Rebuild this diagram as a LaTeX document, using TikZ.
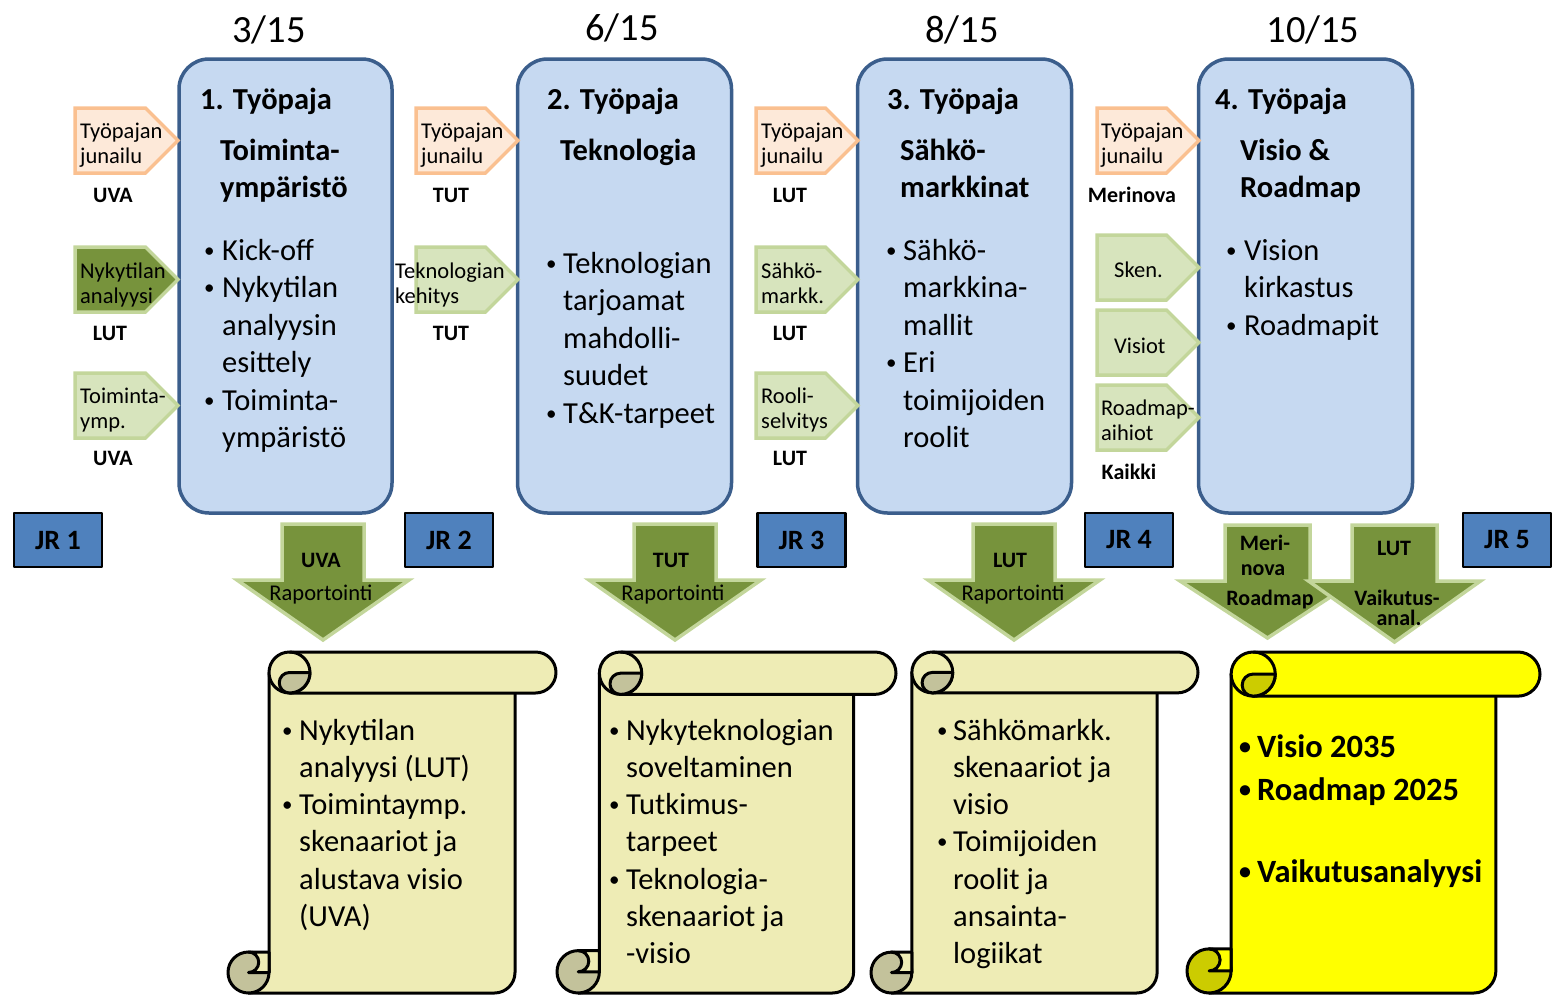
\documentclass[tikz,border=0pt]{standalone}
\usepackage{fontspec}
\setmainfont{Carlito}
\definecolor{boxfill}{HTML}{C6D9F1}
\definecolor{boxline}{HTML}{3B5E8C}
\definecolor{orfill}{HTML}{FDE9D9}
\definecolor{orline}{HTML}{FAC090}
\definecolor{dkgreen}{HTML}{77933C}
\definecolor{ltgreen}{HTML}{D7E4BD}
\definecolor{grline}{HTML}{C3D69B}
\definecolor{jrfill}{HTML}{4F81BD}
\definecolor{scfill}{HTML}{EEECB5}
\definecolor{scdark}{HTML}{C3C29B}
\definecolor{ylw}{HTML}{FFFF00}
\definecolor{ylwdark}{HTML}{CCCC00}
\newcommand\fbig{\fontsize{30.5}{37.5}\selectfont}
\newcommand\fhead{\bfseries\fontsize{30.5}{36}\selectfont}
\newcommand\fdate{\fontsize{38.5}{46}\selectfont}
\newcommand\fsmall{\fontsize{22.5}{26}\selectfont}
\newcommand\fsmallb{\bfseries\fontsize{22}{26}\selectfont}
\newcommand\fjr{\bfseries\fontsize{28}{34}\selectfont}
\newcommand\fyel{\bfseries\fontsize{32.5}{40}\selectfont}
\newcommand\fbul{\fontsize{21}{21}\selectfont}
\newcommand\fbulb{\bfseries\fontsize{24}{24}\selectfont}
% multi-line text: name, x, first baseline, spacing, font, list
\newcommand\tlines[6]{%
  \foreach \s [count=\i] in {#6} {\node[txt, font=#5] (#1-\i) at (#2, {-(#3+(\i-1)*#4)}) {\s};}}
% bullet: name, x, baseline, font
\newcommand\tbul[4]{\node[txt, font=#4] (#1) at (#2,{-(#3-3)}) {\textbullet};}
% pentagon: name, left, top, tip x, bottom, style
\newcommand\pent[6]{%
  \draw[#6] (#2,-#3) -- ({#4-(#5-#3)/2},-#3) -- (#4,{-(#3+#5)/2}) -- ({#4-(#5-#3)/2},-#5) -- (#2,-#5) -- cycle;
  \coordinate (#1) at ({(#2+#4)/2},{-(#3+#5)/2});}
% down arrow: name, cx, top, neck, tip, shaft half, head half
\newcommand\darrow[7]{%
  \draw[darr] ({#2-#6},-#3) -- ({#2+#6},-#3) -- ({#2+#6},-#4) -- ({#2+#7},-#4) -- (#2,-#5) -- ({#2-#7},-#4) -- ({#2-#6},-#4) -- cycle;
  \coordinate (#1) at (#2,-#4);}
% scroll: name, l, t, r, b, fill, dark
\newcommand\scrollshape[7]{%
  \pgfmathsetmacro\scL{#2}\pgfmathsetmacro\scT{-#3}\pgfmathsetmacro\scR{#4}\pgfmathsetmacro\scB{-#5}%
  \pgfmathsetmacro\scch{0.125*(#4-#2)}\pgfmathsetmacro\scchh{\scch/2}\pgfmathsetmacro\scchq{\scch/4}%
  \pgfmathsetmacro\scbl{\scL+\scch}\pgfmathsetmacro\scbr{\scR-\scch}%
  \pgfmathsetmacro\sccx{\scbl+\scchh}\pgfmathsetmacro\sccy{\scT-\scchh}%
  \pgfmathsetmacro\scbyA{\scB+\scchh}\pgfmathsetmacro\scbyT{\scB+\scch}\pgfmathsetmacro\scbcx{\scL+\scchh}%
  \pgfmathsetmacro\scbrA{\scbr-\scchh}\pgfmathsetmacro\scrr{\scR-\scchh}\pgfmathsetmacro\scrb{\scT-\scch}%
  \pgfmathsetmacro\sccxr{\sccx+\scchh}%
  \draw[scline, fill=#6] (\scbl,\sccy) -- (\scbl,\scbyA) -- (\scbcx,\scB) -- (\scbrA,\scB)
     arc[start angle=-90,end angle=0,radius=\scchh pt] -- (\scbr,\sccy) -- cycle;
  \draw[scline, fill=#7] (\scbcx,\scbyA) circle[radius=\scchh pt];
  \draw[scline, fill=#6] (\scbcx,\scbyT) -- (\scbl,\scbyT) -- (\scbl,\scbyA) -- (\scbcx,\scbyA)
     arc[start angle=-90,end angle=90,radius=\scchq pt] -- cycle;
  \draw[scline, fill=#6] (\sccx,\scT) -- (\scrr,\scT) arc[start angle=90,end angle=-90,radius=\scchh pt]
     -- (\sccx,\scrb) arc[start angle=270,end angle=90,radius=\scchh pt] -- cycle;
  \draw[scline] (\sccx,\scT) arc[start angle=90,end angle=-90,radius=\scchh pt];
  \draw[scline, fill=#7] (\sccx,\scrb) arc[start angle=270,end angle=90,radius=\scchq pt]
     -- (\sccxr,\sccy) arc[start angle=0,end angle=-90,radius=\scchh pt] -- cycle;
  \coordinate (#1) at ({(#2+#4)/2},{-(#3+#5)/2});}
\begin{document}
\begin{tikzpicture}[x=1pt,y=1pt,line join=round,
  txt/.style={anchor=base west, inner sep=0pt},
  ctxt/.style={anchor=base, inner sep=0pt},
  wbox/.style={draw=boxline, fill=boxfill, line width=3.5pt, rounded corners=30pt, inner sep=0pt},
  jrbox/.style={draw=black, fill=jrfill, line width=2.5pt, minimum width=88pt, minimum height=54pt, inner sep=0pt, font=\fjr},
  pentor/.style={draw=orline, fill=orfill, line width=3.5pt, line join=miter},
  pentdk/.style={draw=grline, fill=dkgreen, line width=3.5pt, line join=miter},
  pentlt/.style={draw=grline, fill=ltgreen, line width=3.5pt, line join=miter},
  darr/.style={draw=grline, fill=dkgreen, line width=3.5pt, line join=miter},
  scline/.style={draw=black, line width=3pt}]
\path[use as bounding box] (0,0) rectangle (1559,-1004);

% dates
\node[ctxt, font=\fdate] (d1) at (269,-42) {3/15};
\node[ctxt, font=\fdate] (d2) at (622,-40) {6/15};
\node[ctxt, font=\fdate] (d3) at (962,-42) {8/15};
\node[ctxt, font=\fdate] (d4) at (1313,-42) {10/15};

% workshop boxes
\node[wbox, minimum width=213pt, minimum height=454pt] (w1) at (285.5,-286) {};
\node[wbox, minimum width=214pt, minimum height=454pt] (w2) at (624.5,-286) {};
\node[wbox, minimum width=214pt, minimum height=454pt] (w3) at (964.5,-286) {};
\node[wbox, minimum width=214pt, minimum height=454pt] (w4) at (1305.5,-286) {};

% box 1
\node[txt, font=\fhead] (h1) at (200,-109) {1. Työpaja};
\tlines{h1s}{220}{160}{37}{\fhead}{Toiminta-,ympäristö}
\tlines{b1}{222}{260}{37.5}{\fbig}{Kick-off,Nykytilan,analyysin,esittely,Toiminta-,ympäristö}
\tbul{b1a}{204}{260}{\fbul}\tbul{b1b}{204}{297.5}{\fbul}\tbul{b1c}{204}{410}{\fbul}
% box 2
\node[txt, font=\fhead] (h2) at (547,-109) {2. Työpaja};
\tlines{h2s}{560}{160}{37}{\fhead}{Teknologia}
\tlines{b2}{563}{273}{37.5}{\fbig}{Teknologian,tarjoamat,mahdolli-,suudet,T\&K-tarpeet}
\tbul{b2a}{546}{273}{\fbul}\tbul{b2b}{546}{423}{\fbul}
% box 3
\node[txt, font=\fhead] (h3) at (887,-109) {3. Työpaja};
\tlines{h3s}{900}{160}{37}{\fhead}{Sähkö-,markkinat}
\tlines{b3}{903}{260}{37.5}{\fbig}{Sähkö-,markkina-,mallit,Eri,toimijoiden,roolit}
\tbul{b3a}{886}{260}{\fbul}\tbul{b3b}{886}{372.5}{\fbul}
% box 4
\node[txt, font=\fhead] (h4) at (1215,-109) {4. Työpaja};
\tlines{h4s}{1240}{160}{37}{\fhead}{Visio \&,Roadmap}
\tlines{b4}{1244}{260}{37.5}{\fbig}{Vision,kirkastus,Roadmapit}
\tbul{b4a}{1226}{260}{\fbul}\tbul{b4b}{1226}{335}{\fbul}

% input pentagons
\pent{p11}{75}{108}{178}{173}{pentor}
\pent{p12}{75}{247}{178}{312}{pentdk}
\pent{p13}{75}{373}{178}{438}{pentlt}
\tlines{p11t}{80}{138}{25}{\fsmall}{Työpajan,junailu}
\tlines{p12t}{80}{278}{25}{\fsmall}{Nykytilan,analyysi}
\tlines{p13t}{80}{403}{25}{\fsmall}{Toiminta-,ymp.}
\node[ctxt, font=\fsmallb] (l11) at (113,-202) {UVA};
\node[ctxt, font=\fsmallb] (l12) at (110,-340) {LUT};
\node[ctxt, font=\fsmallb] (l13) at (113,-465) {UVA};

\pent{p21}{416}{108}{518}{173}{pentor}
\pent{p22}{416}{247}{518}{312}{pentlt}
\tlines{p21t}{421}{138}{25}{\fsmall}{Työpajan,junailu}
\tlines{p22t}{395}{278}{25}{\fsmall}{Teknologian,kehitys}
\node[ctxt, font=\fsmallb] (l21) at (451,-202) {TUT};
\node[ctxt, font=\fsmallb] (l22) at (451,-340) {TUT};

\pent{p31}{756}{108}{858}{173}{pentor}
\pent{p32}{756}{247}{858}{312}{pentlt}
\pent{p33}{756}{373}{858}{438}{pentlt}
\tlines{p31t}{761}{138}{25}{\fsmall}{Työpajan,junailu}
\tlines{p32t}{761}{278}{25}{\fsmall}{Sähkö-,markk.}
\tlines{p33t}{761}{403}{25}{\fsmall}{Rooli-,selvitys}
\node[ctxt, font=\fsmallb] (l31) at (790,-202) {LUT};
\node[ctxt, font=\fsmallb] (l32) at (790,-340) {LUT};
\node[ctxt, font=\fsmallb] (l33) at (790,-465) {LUT};

\pent{p41}{1097}{108}{1199}{173}{pentor}
\pent{p42}{1097}{235}{1199}{300}{pentlt}
\pent{p43}{1097}{310}{1199}{375}{pentlt}
\pent{p44}{1097}{385}{1199}{450}{pentlt}
\tlines{p41t}{1101}{138}{25}{\fsmall}{Työpajan,junailu}
\tlines{p42t}{1114}{277}{25}{\fsmall}{Sken.}
\tlines{p43t}{1114}{353}{25}{\fsmall}{Visiot}
\tlines{p44t}{1101}{415}{25}{\fsmall}{Roadmap-,aihiot}
\node[ctxt, font=\fsmallb] (l41) at (1132,-202) {Merinova};
\node[ctxt, font=\fsmallb] (l44) at (1129,-479) {Kaikki};

% JR boxes
\node[jrbox] (jr1) at (58,-540) {JR 1};
\node[jrbox] (jr2) at (449,-540) {JR 2};
\node[jrbox] (jr3) at (801.5,-540) {JR 3};
\node[jrbox] (jr4) at (1129,-540) {JR 4};
\node[jrbox] (jr5) at (1507,-540) {JR 5};

% down arrows
\darrow{a1}{323}{524}{580}{640}{41}{86}
\node[ctxt, font=\fsmallb] (a1t) at (321,-567) {UVA};
\node[ctxt, font=\fsmall] (a1r) at (321,-600) {Raportointi};
\darrow{a2}{675}{524}{580}{640}{41}{86}
\node[ctxt, font=\fsmallb] (a2t) at (671,-567) {TUT};
\node[ctxt, font=\fsmall] (a2r) at (673,-600) {Raportointi};
\darrow{a3}{1014}{524}{580}{640}{41}{86}
\node[ctxt, font=\fsmallb] (a3t) at (1010,-567) {LUT};
\node[ctxt, font=\fsmall] (a3r) at (1013,-600) {Raportointi};
\darrow{a4}{1267.5}{525}{581}{638}{42.5}{87.5}
\node[ctxt, font=\fsmallb] (a4t1) at (1265,-550) {Meri-};
\node[ctxt, font=\fsmallb] (a4t2) at (1263,-575) {nova};
\node[ctxt, font=\fsmallb] (a4r) at (1270,-605) {Roadmap};
\darrow{a5}{1394.5}{525}{581}{642}{42.5}{86}
\node[ctxt, font=\fsmallb] (a5t) at (1394,-555) {LUT};
\node[ctxt, font=\fsmallb] (a5r1) at (1397,-605) {Vaikutus-};
\node[ctxt, font=\fsmallb] (a5r2) at (1399,-625) {anal.};

% scrolls
\scrollshape{s1}{228}{652}{556}{993}{scfill}{scdark}
\tlines{s1t}{299}{740}{37.3}{\fbig}{Nykytilan,analyysi (LUT),Toimintaymp.,skenaariot ja,alustava visio,{(UVA)}}
\tbul{s1a}{282}{740}{\fbul}\tbul{s1b}{282}{814.6}{\fbul}
\scrollshape{s2}{557}{652}{896}{993}{scfill}{scdark}
\tlines{s2t}{626}{740}{37.3}{\fbig}{Nykyteknologian,soveltaminen,Tutkimus-,tarpeet,Teknologia-,skenaariot ja,-visio}
\tbul{s2a}{609}{740}{\fbul}\tbul{s2b}{609}{814.6}{\fbul}\tbul{s2c}{609}{889.2}{\fbul}
\scrollshape{s3}{871}{652}{1198}{993}{scfill}{scdark}
\tlines{s3t}{953}{740}{37.3}{\fbig}{Sähkömarkk.,skenaariot ja,visio,Toimijoiden,roolit ja,ansainta-,logiikat}
\tbul{s3a}{937}{740}{\fbul}\tbul{s3b}{937}{851.9}{\fbul}
\scrollshape{s4}{1187}{652}{1540}{993}{ylw}{ylwdark}
\node[txt, font=\fyel] (s4a) at (1257,-757) {Visio 2035};
\node[txt, font=\fyel] (s4b) at (1257,-800) {Roadmap 2025};
\node[txt, font=\fyel] (s4c) at (1257,-882) {Vaikutusanalyysi};
\tbul{s4ba}{1239}{757}{\fbulb}\tbul{s4bb}{1239}{800}{\fbulb}\tbul{s4bc}{1239}{882}{\fbulb}
\end{tikzpicture}
\end{document}
